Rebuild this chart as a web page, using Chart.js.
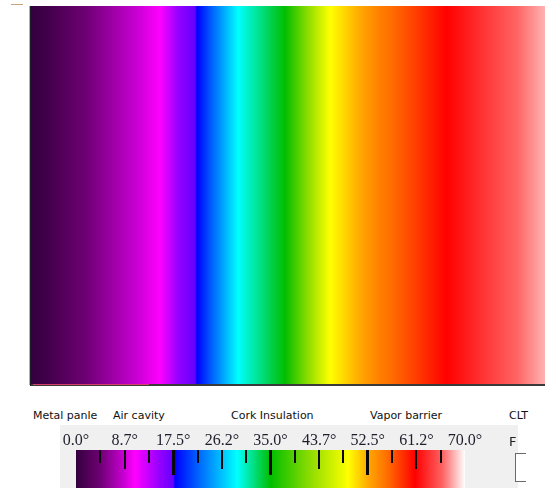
<!DOCTYPE html>
<html>
<head>
<meta charset="utf-8">
<script src="https://cdn.jsdelivr.net/npm/chart.js@4.4.1/dist/chart.umd.min.js"></script>
<style>
  html, body { margin: 0; padding: 0; background: #fff; }
  body { width: 545px; height: 488px; position: relative; overflow: hidden; font-family: "DejaVu Sans", sans-serif; }
  #wallWrap { position: absolute; left: 0; top: 0; width: 545px; height: 400px; }
  #barWrap { position: absolute; left: 60px; top: 425px; width: 458px; height: 63px; background: #f0f0f0; }
  .layer { position: absolute; top: 409px; font-size: 11px; line-height: 13px; color: #111; white-space: nowrap; }
  #mark { position: absolute; left: 11px; top: 4px; width: 12px; height: 1px; background: #c9a47a; }
  #fLetter { position: absolute; left: 509px; top: 434px; font-size: 13px; line-height: 16px; color: #222; }
  #fBox { position: absolute; left: 515px; top: 453px; width: 10px; height: 27px; border: 1px solid #6a6a6a; border-right: none; background: #fff; }
</style>
</head>
<body>
<div id="mark"></div>
<div id="wallWrap"><canvas id="wallChart" width="545" height="400"></canvas></div>
<div id="layers"></div>
<div id="barWrap"><canvas id="scaleChart" width="458" height="63"></canvas></div>
<div id="fLetter">F</div>
<div id="fBox"></div>
<script>
// temperature profile through the wall (depth in % of wall thickness, temperature in degrees)
const depthPct = [0, 2.7, 13.4, 25.1, 28.6, 32.3, 40.3, 49.4, 58.2, 67.9, 80.9, 100];
const tempDeg  = [0, 0.8, 5.5, 10.6, 15, 17.8, 29, 35, 49, 55, 61, 68];

const layerNames = ['Metal panle', 'Air cavity', 'Cork Insulation', 'Vapor barrier', 'CLT'];
const layerLabelX = [33, 113, 231, 370, 509];

const scaleMin = 0;
const scaleMax = 70;
const tickStep = 4.375;
const tickLabels = ['0.0°', '8.7°', '17.5°', '26.2°', '35.0°', '43.7°', '52.5°', '61.2°', '70.0°'];

// colour scale used by the picture (temperature -> rgb)
const colorStops = [
  [0, [52, 0, 62]],
  [4.3, [110, 0, 115]],
  [8.6, [200, 0, 210]],
  [10.6, [255, 0, 255]],
  [15, [150, 0, 255]],
  [17.5, [100, 0, 255]],
  [17.8, [0, 0, 255]],
  [22, [0, 100, 255]],
  [29, [0, 255, 255]],
  [35, [0, 190, 0]],
  [42, [140, 220, 0]],
  [49, [255, 255, 0]],
  [52.5, [255, 170, 0]],
  [56, [255, 110, 0]],
  [61, [255, 0, 0]],
  [66, [255, 100, 100]],
  [70, [255, 255, 255]]
];

function colorAt(t) {
  if (t <= colorStops[0][0]) return rgb(colorStops[0][1]);
  for (let i = 1; i < colorStops.length; i++) {
    const [t1, c1] = colorStops[i];
    if (t <= t1) {
      const [t0, c0] = colorStops[i - 1];
      const f = (t - t0) / (t1 - t0);
      return rgb(c0.map((v, k) => v + (c1[k] - v) * f));
    }
  }
  return rgb(colorStops[colorStops.length - 1][1]);
}
function rgb(c) {
  return `rgb(${Math.round(c[0])}, ${Math.round(c[1])}, ${Math.round(c[2])})`;
}

// gradient for the wall, built from the profile through the x scale
let wallGrad = null;
function wallFill(chart) {
  const area = chart.chartArea;
  if (!area) return '#000';
  if (wallGrad) return wallGrad;
  const xs = chart.scales.x;
  const x0 = xs.getPixelForValue(depthPct[0]);
  const x1 = xs.getPixelForValue(depthPct[depthPct.length - 1]);
  const g = chart.ctx.createLinearGradient(x0, 0, x1, 0);
  const off = d => (xs.getPixelForValue(d) - x0) / (x1 - x0);
  for (let i = 0; i < depthPct.length - 1; i++) {
    const d0 = depthPct[i], d1 = depthPct[i + 1];
    const t0 = tempDeg[i], t1 = tempDeg[i + 1];
    g.addColorStop(off(d0), colorAt(t0));
    colorStops.forEach(([s]) => {
      if (s > Math.min(t0, t1) && s < Math.max(t0, t1)) {
        g.addColorStop(off(d0 + (s - t0) / (t1 - t0) * (d1 - d0)), colorAt(s));
      }
    });
  }
  g.addColorStop(1, colorAt(tempDeg[tempDeg.length - 1]));
  wallGrad = g;
  return g;
}

const wallEdges = {
  id: 'wallEdges',
  afterDatasetsDraw(chart) {
    const { ctx, chartArea: a } = chart;
    ctx.save();
    ctx.fillStyle = '#9fb4c8';
    ctx.fillRect(a.left - 2, a.top, 1, a.bottom - a.top);
    ctx.fillStyle = '#1c1c2a';
    ctx.fillRect(a.left - 1, a.top, 1, a.bottom - a.top + 1);
    ctx.fillStyle = '#3a3a3a';
    ctx.fillRect(a.left, a.bottom - 1, a.right - a.left, 2);
    ctx.fillStyle = '#d8406a';
    ctx.fillRect(a.left + 2, a.bottom - 1, 116, 1);
    ctx.restore();
  }
};

new Chart(document.getElementById('wallChart'), {
  type: 'bar',
  data: {
    labels: ['wall'],
    datasets: depthPct.slice(1).map((d, i) => ({
      data: [[depthPct[i], d]],
      grouped: false,
      barPercentage: 1,
      categoryPercentage: 1,
      inflateAmount: 0.5,
      borderWidth: 0,
      backgroundColor: ctx => wallFill(ctx.chart)
    }))
  },
  options: {
    indexAxis: 'y',
    responsive: false,
    animation: false,
    devicePixelRatio: 1,
    layout: { padding: { left: 31, top: 6, right: 0, bottom: 15 } },
    scales: {
      x: { type: 'linear', min: 0, max: 100, display: false },
      y: { display: false }
    },
    plugins: { legend: { display: false }, tooltip: { enabled: false } }
  },
  plugins: [wallEdges]
});

// layer names under the wall
const layersDiv = document.getElementById('layers');
layerNames.forEach((name, i) => {
  const el = document.createElement('div');
  el.className = 'layer';
  el.style.left = layerLabelX[i] + 'px';
  el.textContent = name;
  layersDiv.appendChild(el);
});

// colour scale bar
let scaleGrad = null;
function scaleFill(chart) {
  const area = chart.chartArea;
  if (!area) return '#000';
  if (scaleGrad) return scaleGrad;
  const xs = chart.scales.x;
  const x0 = xs.getPixelForValue(scaleMin);
  const x1 = xs.getPixelForValue(scaleMax);
  const g = chart.ctx.createLinearGradient(x0, 0, x1, 0);
  colorStops.forEach(([t, c]) => g.addColorStop((t - scaleMin) / (scaleMax - scaleMin), rgb(c)));
  scaleGrad = g;
  return g;
}

const tickMarks = {
  id: 'tickMarks',
  afterDatasetsDraw(chart) {
    const { ctx, chartArea: a } = chart;
    const xs = chart.scales.x;
    const n = Math.round((scaleMax - scaleMin) / tickStep);
    ctx.save();
    ctx.fillStyle = '#080808';
    for (let i = 1; i < n; i++) {
      const x = xs.getPixelForValue(scaleMin + i * tickStep);
      const len = i % 4 === 0 ? 25 : (i % 2 === 0 ? 19 : 13);
      const w = i % 4 === 0 ? 3 : 2;
      ctx.fillRect(Math.round(x - w / 2), a.top, w, len);
    }
    ctx.restore();
  }
};

new Chart(document.getElementById('scaleChart'), {
  type: 'bar',
  data: {
    labels: ['scale'],
    datasets: [{
      data: [[scaleMin, scaleMax]],
      barPercentage: 1,
      categoryPercentage: 1,
      borderWidth: 0,
      backgroundColor: ctx => scaleFill(ctx.chart)
    }]
  },
  options: {
    indexAxis: 'y',
    responsive: false,
    animation: false,
    devicePixelRatio: 1,
    layout: { padding: { left: 16, right: 53, top: 0, bottom: 0 } },
    scales: {
      x: {
        type: 'linear',
        position: 'top',
        min: scaleMin,
        max: scaleMax,
        afterFit: s => { s.height = 25; },
        grid: { display: false, drawTicks: false },
        border: { display: false },
        ticks: {
          stepSize: tickStep,
          autoSkip: false,
          maxRotation: 0,
          padding: 0,
          color: '#1e1e2c',
          font: { family: 'Liberation Serif', size: 16 },
          callback: (v, i) => (i % 2 === 0 ? tickLabels[i / 2] : '')
        }
      },
      y: { display: false }
    },
    plugins: { legend: { display: false }, tooltip: { enabled: false } }
  },
  plugins: [tickMarks]
});
</script>
</body>
</html>
